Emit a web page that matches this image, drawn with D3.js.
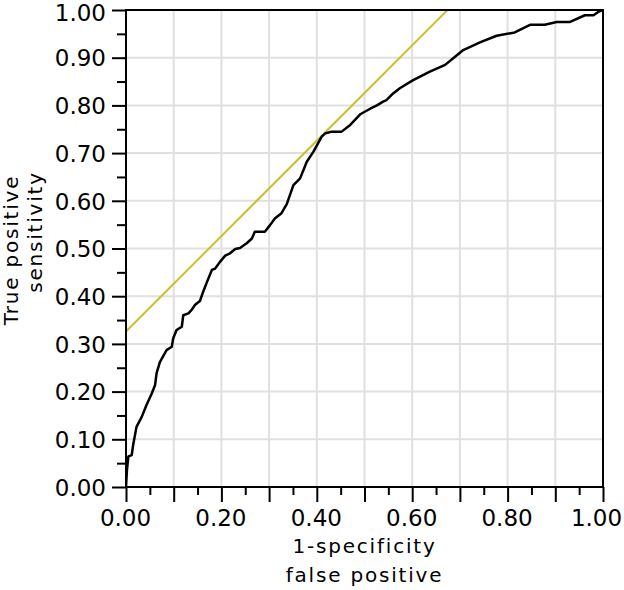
<!DOCTYPE html>
<html>
<head>
<meta charset="utf-8">
<script src="https://cdn.jsdelivr.net/npm/d3@7/dist/d3.min.js"></script>
<style>
  html, body { margin: 0; padding: 0; background: #fff; }
  svg { display: block; }
  text { font-family: "DejaVu Sans", sans-serif; fill: #000; }
</style>
</head>
<body>
<svg id="chart" width="624" height="590"></svg>
<script>
// ROC curve points
const fpr = [0, 0.002, 0.005, 0.012, 0.015, 0.022, 0.033, 0.043, 0.054, 0.061, 0.064, 0.071,
  0.085, 0.096, 0.099, 0.106, 0.117, 0.120, 0.131, 0.138, 0.145, 0.155, 0.162, 0.169, 0.180,
  0.187, 0.197, 0.208, 0.218, 0.229, 0.239, 0.253, 0.264, 0.270, 0.291, 0.302, 0.312, 0.326,
  0.337, 0.351, 0.365, 0.379, 0.393, 0.410, 0.417, 0.431, 0.452, 0.470, 0.492, 0.512, 0.526,
  0.539, 0.546, 0.560, 0.574, 0.602, 0.637, 0.669, 0.686, 0.707, 0.742, 0.777, 0.815, 0.847,
  0.878, 0.903, 0.931, 0.962, 0.980, 0.990, 1.0];
const tpr = [0, 0.036, 0.064, 0.067, 0.088, 0.126, 0.147, 0.172, 0.196, 0.214, 0.238, 0.262,
  0.287, 0.294, 0.312, 0.329, 0.336, 0.360, 0.364, 0.372, 0.382, 0.390, 0.410, 0.428, 0.455,
  0.458, 0.472, 0.485, 0.490, 0.499, 0.501, 0.511, 0.521, 0.535, 0.535, 0.549, 0.563, 0.574,
  0.593, 0.633, 0.647, 0.682, 0.703, 0.734, 0.741, 0.745, 0.745, 0.759, 0.782, 0.793, 0.800,
  0.808, 0.811, 0.825, 0.836, 0.853, 0.871, 0.885, 0.899, 0.916, 0.932, 0.946, 0.953, 0.969,
  0.969, 0.975, 0.975, 0.989, 0.989, 0.996, 1.0];
// tangent reference line (slope 1)
const refX = [0, 0.674];
const refY = [0.326, 1.0];

const xMajorTicks = [0, 0.1, 0.2, 0.3, 0.4, 0.5, 0.6, 0.7, 0.8, 0.9, 1.0];
const xLabelTicks = [0, 0.2, 0.4, 0.6, 0.8, 1.0];
const yMajorTicks = [0, 0.1, 0.2, 0.3, 0.4, 0.5, 0.6, 0.7, 0.8, 0.9, 1.0];
const minorTicks = [0.05, 0.15, 0.25, 0.35, 0.45, 0.55, 0.65, 0.75, 0.85, 0.95];
const xTitle = ["1-specificity", "false positive"];
const yTitle = ["True positive", "sensitivity"];

const L = 126, R = 603, T = 10, B = 487;
const svg = d3.select("#chart");
const x = d3.scaleLinear().domain([0, 1]).range([L, R]);
const y = d3.scaleLinear().domain([0, 1]).range([B, T]);
const fmt = d3.format(".2f");

// grid
const grid = svg.append("g");
grid.selectAll("line.gx").data(xMajorTicks.slice(1, -1)).join("line")
  .attr("x1", d => x(d)).attr("x2", d => x(d)).attr("y1", T).attr("y2", B)
  .attr("stroke", "#e0e0e0").attr("stroke-width", 2);
grid.selectAll("line.gy").data(yMajorTicks.slice(1, -1)).join("line")
  .attr("y1", d => y(d)).attr("y2", d => y(d)).attr("x1", L).attr("x2", R)
  .attr("stroke", "#e0e0e0").attr("stroke-width", 2);

// clip
svg.append("clipPath").attr("id", "clip").append("rect")
  .attr("x", L).attr("y", T).attr("width", R - L).attr("height", B - T);

const plot = svg.append("g").attr("clip-path", "url(#clip)");
plot.append("path")
  .datum(refX.map((d, i) => [d, refY[i]]))
  .attr("d", d3.line().x(d => x(d[0])).y(d => y(d[1])))
  .attr("fill", "none").attr("stroke", "#c8c030").attr("stroke-width", 2);
plot.append("path")
  .datum(fpr.map((d, i) => [d, tpr[i]]))
  .attr("d", d3.line().x(d => x(d[0])).y(d => y(d[1])))
  .attr("fill", "none").attr("stroke", "#000").attr("stroke-width", 2.5)
  .attr("stroke-linejoin", "round");

// frame
svg.append("rect").attr("x", L).attr("y", T).attr("width", R - L).attr("height", B - T)
  .attr("fill", "none").attr("stroke", "#000").attr("stroke-width", 2);

// x axis
const xAxisMajor = d3.axisBottom(x).tickValues(xMajorTicks).tickSize(15)
  .tickFormat(d => xLabelTicks.some(v => Math.abs(v - d) < 1e-9) ? fmt(d) : "");
const gx = svg.append("g").attr("transform", `translate(0,${B})`).call(xAxisMajor);
gx.select(".domain").remove();
gx.selectAll(".tick line").attr("stroke", "#000").attr("stroke-width", 2);
gx.selectAll(".tick text").attr("font-size", 23).attr("font-family", "DejaVu Sans")
  .attr("fill", "#000").attr("y", 23).attr("dy", "0.71em")
  .attr("dx", d => d === 1 ? -7 : -1);
const gxm = svg.append("g").attr("transform", `translate(0,${B})`)
  .call(d3.axisBottom(x).tickValues(minorTicks).tickSize(8).tickFormat(""));
gxm.select(".domain").remove();
gxm.selectAll(".tick line").attr("stroke", "#000").attr("stroke-width", 2);

// y axis
const gy = svg.append("g").attr("transform", `translate(${L},0)`)
  .call(d3.axisLeft(y).tickValues(yMajorTicks).tickSize(14).tickFormat(fmt));
gy.select(".domain").remove();
gy.selectAll(".tick line").attr("stroke", "#000").attr("stroke-width", 2);
gy.selectAll(".tick text").attr("font-size", 23).attr("font-family", "DejaVu Sans")
  .attr("fill", "#000").attr("x", -20).attr("dy", "0.36em")
  .attr("y", d => d === 1 ? 2 : 0);
const gym = svg.append("g").attr("transform", `translate(${L},0)`)
  .call(d3.axisLeft(y).tickValues(minorTicks).tickSize(9).tickFormat(""));
gym.select(".domain").remove();
gym.selectAll(".tick line").attr("stroke", "#000").attr("stroke-width", 2);

// titles
const cx = (L + R) / 2;
svg.append("text").attr("x", cx).attr("y", 553).attr("text-anchor", "middle")
  .attr("font-size", 20).style("letter-spacing", "1.8px").text(xTitle[0]);
svg.append("text").attr("x", cx).attr("y", 582).attr("text-anchor", "middle")
  .attr("font-size", 20).style("letter-spacing", "1.8px").text(xTitle[1]);
svg.append("text").attr("transform", "translate(18,250) rotate(-90)").attr("text-anchor", "middle")
  .attr("font-size", 20).style("letter-spacing", "1.8px").text(yTitle[0]);
svg.append("text").attr("transform", "translate(42,232) rotate(-90)").attr("text-anchor", "middle")
  .attr("font-size", 20).style("letter-spacing", "1.8px").text(yTitle[1]);
</script>
</body>
</html>
